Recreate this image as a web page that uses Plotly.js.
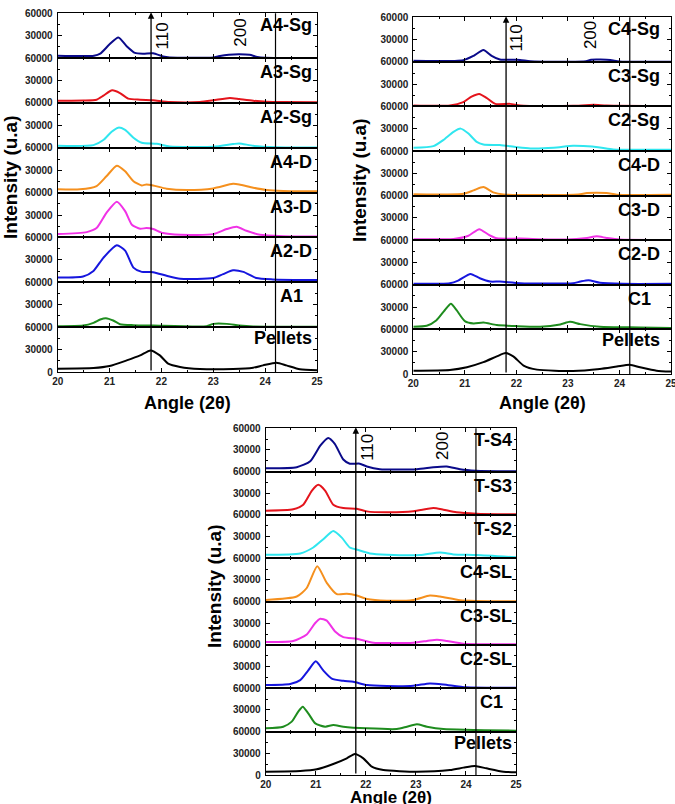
<!DOCTYPE html>
<html><head><meta charset="utf-8">
<script src="https://cdn.plot.ly/plotly-3.0.1.min.js"></script>
<style>html,body{margin:0;padding:0;background:#fff}#chart{width:675px;height:804px}</style>
</head><body><div id="chart"></div>
<script>
// ---------- Panel A ----------
const A_labels = ["A4-Sg","A3-Sg","A2-Sg","A4-D","A3-D","A2-D","A1","Pellets"];
const A4_Sg_x = [20,20.7,20.82,21.0,21.17,21.33,21.49,21.65,21.84,22.03,22.16,23.0,23.1,23.3,23.5,23.7,23.85,24.0,25];
const A4_Sg_y = [3200,3200,6000,18500,27700,16000,7000,6000,6500,2300,1000,1000,2500,4600,5200,4400,1500,500,300];
const A3_Sg_x = [20,20.5,20.75,20.88,21.05,21.2,21.36,21.59,21.84,22.16,22.74,23.0,23.32,23.5,23.77,24.03,24.35,25];
const A3_Sg_y = [3100,3300,4400,9800,16900,13300,5800,4400,3500,1300,1300,3500,6700,5300,3100,1800,1300,900];
const A2_Sg_x = [20,20.69,20.88,21.04,21.17,21.3,21.46,21.62,21.91,22.16,23.0,23.38,23.5,23.77,24.22,25];
const A2_Sg_y = [2700,3600,10400,21600,27000,23900,13500,6800,5400,1800,1400,5000,5900,2700,900,400];
const A4_D_x = [20,20.43,20.75,20.94,21.14,21.3,21.46,21.62,21.71,21.84,22.1,22.49,23.0,23.38,23.5,23.77,24.03,24.35,25];
const A4_D_y = [4400,4400,8800,21900,36100,28500,15300,9600,11000,9600,5300,3500,5700,11800,11000,6600,3500,2200,1800];
const A3_D_x = [20,20.56,20.75,20.94,21.14,21.3,21.43,21.59,21.71,21.84,22.03,22.36,23.0,23.26,23.45,23.64,23.9,24.35,25];
const A3_D_y = [4500,7200,12600,32900,47800,35200,17100,11700,12600,11300,5900,3600,4500,11300,14400,9000,3600,1800,1300];
const A2_D_x = [20,20.49,20.69,20.88,21.14,21.3,21.46,21.62,21.84,22.1,22.36,23.0,23.19,23.38,23.58,23.83,24.15,25];
const A2_D_y = [6600,7900,15300,32800,49500,42500,19700,14000,13600,8800,4800,5700,11000,16200,14000,5700,3900,3000];
const A1_x = [20,20.49,20.69,20.82,20.93,21.07,21.2,21.46,21.84,22.87,23.0,23.26,23.5,23.77,25];
const A1_y = [1300,2200,5800,10200,12000,8900,4000,2700,2200,1300,4400,4400,2200,900,500];
const A_Pel_x = [20,20.69,21.0,21.33,21.59,21.79,21.97,22.13,22.36,22.74,23.38,23.77,23.96,24.22,24.41,24.67,25];
const A_Pel_y = [4400,5300,8000,15500,22200,28900,22200,11100,6700,4000,4000,5800,8900,12400,8900,3600,2200];

// ---------- Panel B ----------
const B_labels = ["C4-Sg","C3-Sg","C2-Sg","C4-D","C3-D","C2-D","C1","Pellets"];
const C4_Sg_x = [20,20.97,21.17,21.36,21.52,21.68,22.07,22.27,23.35,23.45,23.82,24.0,25];
const C4_Sg_y = [1400,2300,8200,16000,8200,3200,2700,1000,800,3000,2700,500,300];
const C3_Sg_x = [20,20.71,20.97,21.13,21.28,21.42,21.59,21.88,22.07,22.6,23.1,23.5,23.75,25];
const C3_Sg_y = [1300,1300,5800,13300,16900,11500,3500,3500,1300,500,900,2200,1300,500];
const C2_Sg_x = [20,20.39,20.58,20.78,20.92,21.07,21.23,21.36,21.68,22.0,22.27,22.72,23.1,23.3,23.62,23.88,25];
const C2_Sg_y = [4400,6700,14700,25800,30200,23500,12400,8900,8000,5300,3500,4400,7100,6700,4900,2200,1800];
const C4_D_x = [20,20.97,21.17,21.36,21.55,21.75,23.2,23.37,23.75,23.95,25];
const C4_D_y = [1800,2500,7100,11500,4400,1500,1500,3500,3500,1300,1300];
const C3_D_x = [20,20.78,21.07,21.28,21.46,21.62,22.07,22.98,23.37,23.56,23.75,24.0,25];
const C3_D_y = [1300,1800,6100,14900,7500,2600,2200,900,3100,5300,3100,900,400];
const C2_D_x = [20,20.71,20.87,21.11,21.29,21.49,21.68,22.07,23.1,23.24,23.4,23.62,24.07,25];
const C2_D_y = [1300,2200,5700,14600,8800,4400,4400,2200,2200,4400,6200,2700,1300,1300];
const B_C1_x = [20,20.26,20.45,20.61,20.73,20.84,21.0,21.17,21.36,21.62,22.0,22.46,22.85,23.04,23.24,23.62,24.4,25];
const B_C1_y = [3600,4900,12400,25800,34600,25800,11100,8000,9300,5800,4400,3600,6700,10200,7100,3600,2700,1800];
const B_Pel_x = [20,20.71,21.04,21.36,21.62,21.79,21.94,22.14,22.4,23.1,23.62,23.95,24.2,24.4,24.72,25];
const B_Pel_y = [4500,5500,9100,15900,23700,28200,23700,11400,5900,4100,6800,10000,12300,9100,4500,3200];

// ---------- Panel C ----------
const C_labels = ["T-S4","T-S3","T-S2","C4-SL","C3-SL","C2-SL","C1","Pellets"];
const T_S4_x = [20,20.62,20.89,21.09,21.25,21.38,21.55,21.68,21.88,22.02,22.28,23.02,23.35,23.62,23.88,24.2,25];
const T_S4_y = [4800,6200,14400,36000,46600,38400,16800,11000,11000,7200,3400,3400,6200,7200,3400,1400,500];
const T_S3_x = [20,20.55,20.75,20.92,21.05,21.19,21.35,21.55,21.82,22.02,22.42,22.95,23.35,23.55,23.81,24.21,25];
const T_S3_y = [6000,7800,14200,33400,41700,33400,14200,9600,8700,5000,3700,5000,9600,7300,3700,1800,900];
const T_S2_x = [20,20.69,20.95,21.15,21.35,21.52,21.68,21.85,22.08,22.42,23.08,23.48,23.75,24.21,25];
const T_S2_y = [5000,6800,15000,26400,37700,28600,15000,11400,6800,5000,4500,8100,5400,4500,1400];
const C4_SL_x = [20,20.62,20.82,21.03,21.22,21.42,21.62,21.82,22.02,22.42,22.95,23.28,23.48,23.88,24.21,25];
const C4_SL_y = [2400,7100,18900,49000,26000,10400,10900,8500,3800,1400,2400,8500,7100,1900,900,500];
const C3_SL_x = [20,20.55,20.82,20.99,21.09,21.22,21.38,21.55,21.82,22.15,22.95,23.22,23.42,23.62,23.95,25];
const C3_SL_y = [4100,5500,14600,30500,36400,33700,19100,10900,8600,3200,3200,5500,7300,5500,1800,900];
const C2_SL_x = [20,20.49,20.69,20.85,21.0,21.15,21.32,21.55,21.75,22.02,22.42,22.95,23.28,23.55,24.01,25];
const C2_SL_y = [4500,5900,11300,24800,37400,24800,13500,10400,9000,4500,3200,3600,6800,5400,1400,900];
const C_C1_x = [20,20.35,20.52,20.65,20.74,20.85,20.99,21.19,21.35,21.55,22.02,22.62,22.82,23.02,23.22,23.55,25];
const C_C1_y = [4600,6900,13900,27700,34600,25400,11500,6900,9200,6900,4600,3700,6900,10200,6900,3700,1400];
const C_Pel_x = [20,20.69,21.02,21.35,21.62,21.78,21.95,22.12,22.35,23.02,23.68,23.95,24.18,24.41,24.75,25];
const C_Pel_y = [4600,5500,7900,15300,23100,29100,23100,11500,6900,4600,6900,10200,12500,9200,4600,3700];

const colors = ["#0a0a8a","#e4141c","#30e6ef","#f5901e","#f032e6","#1616de","#1e8c1e","#000000"];
const xRange = [20, 25];
const yRange = [0, 60000];
const line110 = 21.8, line200 = 24.2;

const W = 675, H = 804;
const panels = [
  {x0:57.7, x1:317, top:13.3, bot:372, labels:A_labels, labRight:314,
   series:[[A4_Sg_x,A4_Sg_y],[A3_Sg_x,A3_Sg_y],[A2_Sg_x,A2_Sg_y],[A4_D_x,A4_D_y],[A3_D_x,A3_D_y],[A2_D_x,A2_D_y],[A1_x,A1_y],[A_Pel_x,A_Pel_y]],
   l200x:23.53, l110y:36, l200y:33, ax:{x:187,y:403}, ay:{x:10,y:177}},
  {x0:413.3, x1:671, top:17.3, bot:374, labels:B_labels, labRight:662,
   series:[[C4_Sg_x,C4_Sg_y],[C3_Sg_x,C3_Sg_y],[C2_Sg_x,C2_Sg_y],[C4_D_x,C4_D_y],[C3_D_x,C3_D_y],[C2_D_x,C2_D_y],[B_C1_x,B_C1_y],[B_Pel_x,B_Pel_y]],
   l200x:23.43, l110y:38, l200y:35, ax:{x:542,y:403}, ay:{x:360,y:180}},
  {x0:265.7, x1:516, top:428.3, bot:775, labels:C_labels, labRight:514,
   series:[[T_S4_x,T_S4_y],[T_S3_x,T_S3_y],[T_S2_x,T_S2_y],[C4_SL_x,C4_SL_y],[C3_SL_x,C3_SL_y],[C2_SL_x,C2_SL_y],[C_C1_x,C_C1_y],[C_Pel_x,C_Pel_y]],
   l200x:23.52, l110y:447, l200y:446, ax:{x:391,y:797}, ay:{x:214,y:586}, axSize:17}
];

const px = v => v / W;
const py = v => 1 - v / H;
const FONT = "Liberation Sans, Arial, sans-serif";

const data = [];
const layout = {
  width: W, height: H, margin:{l:0,r:0,t:0,b:0},
  paper_bgcolor:"#fff", plot_bgcolor:"#fff", showlegend:false,
  shapes: [], annotations: []
};

let k = 0;
panels.forEach(p => {
  const n = p.series.length;
  const h = (p.bot - p.top) / n;
  let bottomAxis = null;
  p.series.forEach((s, i) => {
    k++;
    const xa = "xaxis" + k, ya = "yaxis" + k;
    const xr = "x" + k, yr = "y" + k;
    const isBottom = (i === n - 1);
    const t = p.top + i * h, b = t + h;
    data.push({x: s[0], y: s[1], type:"scatter", mode:"lines", xaxis:xr, yaxis:yr,
      line:{color:colors[i], width:2, shape:"spline", smoothing:0.6}, hoverinfo:"skip"});
    layout[xa] = {domain:[px(p.x0), px(p.x1)], anchor:yr, range:xRange, showgrid:false, zeroline:false,
      showline:true, linecolor:"#000", linewidth:1, mirror:"ticks", ticks:"inside", ticklen:4, tickcolor:"#000",
      dtick:1, tick0:20, showticklabels:isBottom, ticklabeloverflow:"allow",
      tickfont:{family:FONT, size:10, color:"#222", weight:"bold"},
      minor:{dtick:0.5, ticklen:2, ticks:"inside", tickcolor:"#000"}};
    layout[ya] = {domain:[py(b), py(t)], anchor:xr, range:yRange, showgrid:false, zeroline:false,
      showline:true, linecolor:"#000", linewidth:1, mirror:"ticks", ticks:"inside", ticklen:4, tickcolor:"#000",
      tickmode:"array", tickvals: isBottom ? [0,30000,60000] : [30000,60000],
      ticktext: isBottom ? ["0","30000","60000"] : ["30000","60000"],
      tickfont:{family:FONT, size:10, color:"#222", weight:"bold"}, ticklabelstandoff:2,
      minor:{tickmode:"linear", tick0:0, dtick:15000, ticklen:2, ticks:"inside", tickcolor:"#000"}};
    const isPel = p.labels[i] === "Pellets";
    const shift = (p.labels[i] === "A1" || p.labels[i] === "C1") ? 9 : 0;
    const dy = isPel ? 11 : (i === 0 ? 12 : 14);
    layout.annotations.push({xref:"paper", yref:"paper", x:px(p.labRight - shift), y:py(t + dy),
      xanchor:"right", yanchor:"middle", showarrow:false, text:"<b>"+p.labels[i]+"</b>",
      font:{family:FONT, size:18, color:"#000"}});
    if (isBottom) bottomAxis = xr;
  });
  // vertical reference lines
  layout.shapes.push({type:"line", xref:bottomAxis, yref:"paper", x0:line200, x1:line200,
    y0:py(p.bot), y1:py(p.top), line:{color:"#000", width:1.2}});
  layout.annotations.push({xref:bottomAxis, yref:"paper", x:line110, y:py(p.top - 1), text:"",
    showarrow:true, axref:"pixel", ayref:"pixel", ax:0, ay:(p.bot - p.top + 1),
    arrowhead:2, arrowsize:1, arrowwidth:1.3, arrowcolor:"#000", standoff:0});
  layout.annotations.push({xref:bottomAxis, yref:"paper", x:22.02, y:py(p.l110y), text:"110",
    xanchor:"center", yanchor:"middle",
    showarrow:false, textangle:-90, font:{family:FONT, size:17, color:"#000"}});
  layout.annotations.push({xref:bottomAxis, yref:"paper", x:p.l200x, y:py(p.l200y), text:"200",
    xanchor:"center", yanchor:"middle",
    showarrow:false, textangle:-90, font:{family:FONT, size:17, color:"#000"}});
  // axis titles
  layout.annotations.push({xref:"paper", yref:"paper", x:px(p.ax.x), y:py(p.ax.y), text:"<b>Angle (2θ)</b>",
    showarrow:false, xanchor:"center", yanchor:"middle", font:{family:FONT, size:p.axSize || 18, color:"#000"}});
  layout.annotations.push({xref:"paper", yref:"paper", x:px(p.ay.x), y:py(p.ay.y), text:"<b>Intensity (u.a)</b>",
    showarrow:false, textangle:-90, xanchor:"center", yanchor:"middle", font:{family:FONT, size:19, color:"#000"}});
});

Plotly.newPlot("chart", data, layout, {staticPlot:true, displayModeBar:false});
</script>
</body></html>
